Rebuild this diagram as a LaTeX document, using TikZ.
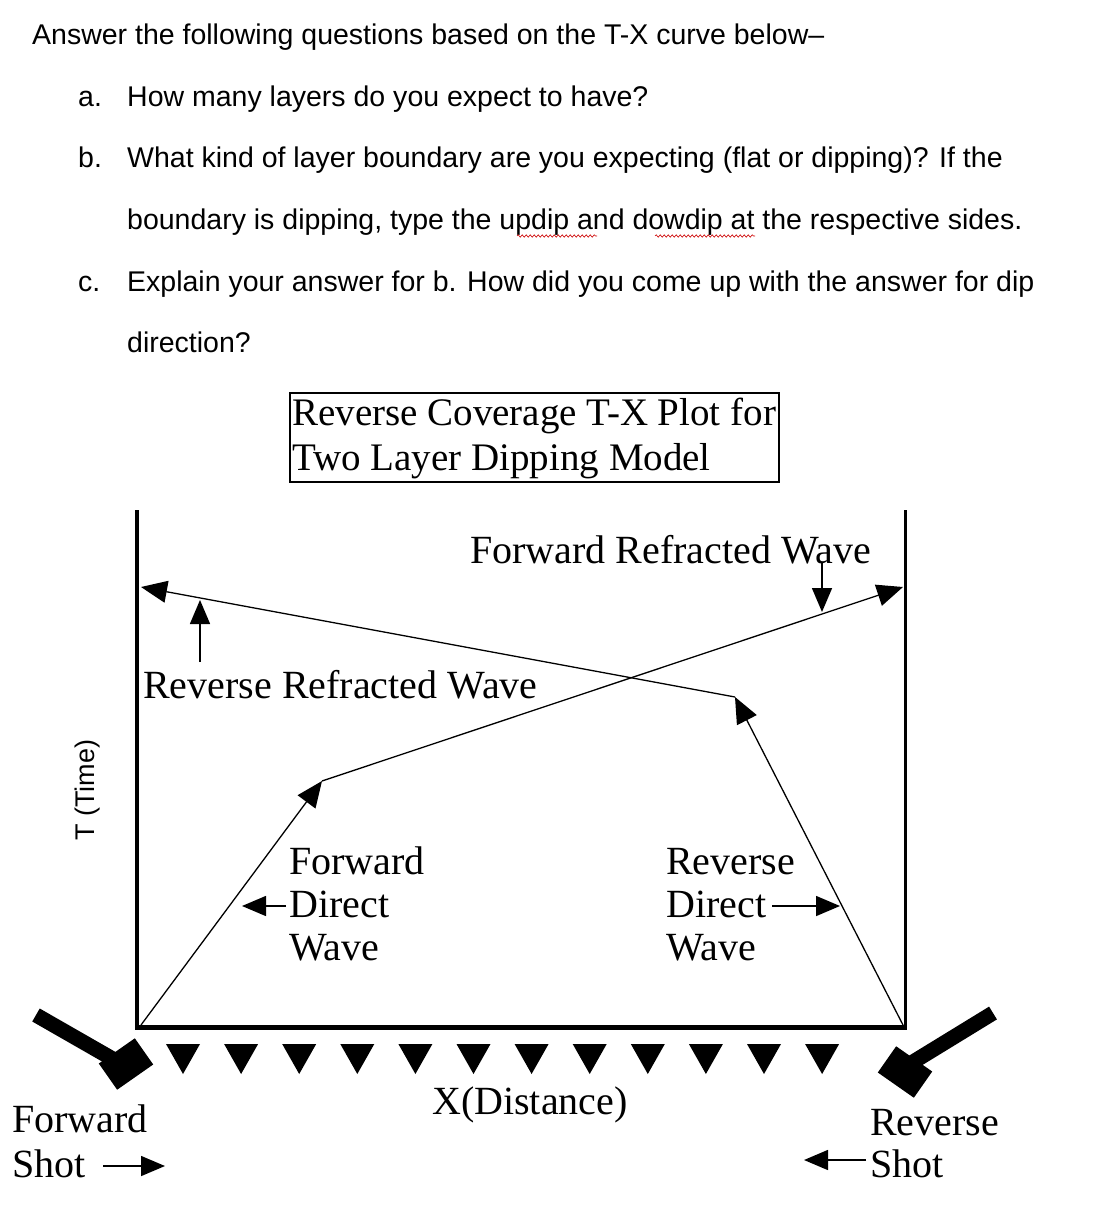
\documentclass[tikz,border=0pt]{standalone}
\usepackage{fontspec}
\setmainfont{Liberation Serif}
\newfontfamily\qfont{Liberation Sans}
\usetikzlibrary{arrows.meta,decorations.pathmorphing}
\begin{document}
\begin{tikzpicture}[x=1pt,y=-1pt,
  q/.style={anchor=base west,font=\qfont\fontsize{28.5}{30}\selectfont,inner sep=0},
  lab/.style={anchor=base west,font=\fontsize{40}{43}\selectfont,inner sep=0,align=left},
  wave/.style={line width=1.3pt},
  tipd/.style={-{Triangle[length=26,width=22]}},
  small/.style={line width=1.5pt,-{Triangle[length=24,width=20]}},
  geo/.style={fill=black,draw=none}]
\useasboundingbox (0,0) rectangle (1110,1214);
\node[q] (t0) at (32,45) {Answer the following questions based on the T-X curve below–};
\node[q] (t1) at (78,107) {a.};
\node[q] (t1b) at (127,107) {How many layers do you expect to have?};
\node[q] (t2) at (78,168) {b.};
\node[q] (t2b) at (127,168) {What kind of layer boundary are you expecting (flat or dipping)? If the};
\node[q] (t3) at (127,230) {boundary is dipping, type the updip and dowdip at the respective sides.};
\node[q] (t4) at (78,291) {c.};
\node[q] (t4b) at (127,291) {Explain your answer for b. How did you come up with the answer for dip};
\node[q] (t5) at (127,352) {direction?};
\draw[red!80!black,line width=0.6pt,decorate,decoration={snake,amplitude=1.2,segment length=4}] (517,236) -- (597,236);
\draw[red!80!black,line width=0.6pt,decorate,decoration={snake,amplitude=1.2,segment length=4}] (655,236) -- (755,236);
% title
\draw[line width=1.3pt] (290,393) rectangle (779,482);
\node[lab,font=\fontsize{39}{45}\selectfont] (title) at (292,470) {Reverse Coverage T-X Plot for\\Two Layer Dipping Model};
% frame
\coordinate (tl) at (137,510); \coordinate (bl) at (137,1027);
\coordinate (tr) at (905,510); \coordinate (br) at (905,1027);
\draw[line width=4pt] (tl) -- (bl);
\draw[line width=3pt] (tr) -- (br);
\draw[line width=5pt] (135,1027) -- (907,1027);
% forward
\coordinate (f0) at (141,1025); \coordinate (f1) at (322,781); \coordinate (f2) at (903,587);
\draw[wave,tipd] (f0) -- (f1);
\draw[wave,tipd] (f1) -- (f2);
% reverse
\coordinate (r0) at (903,1025); \coordinate (r1) at (735,697); \coordinate (r2) at (141,587);
\draw[wave,tipd] (r0) -- (r1);
\draw[wave,tipd] (r1) -- (r2);
% labels
\node[lab] (frw) at (470,563) {Forward Refracted Wave};
\coordinate (fra) at (822,563); \coordinate (frb) at (822,612);
\draw[small] (fra) -- (frb);
\node[lab] (rrw) at (143,698) {Reverse Refracted Wave};
\coordinate (rra) at (200,662); \coordinate (rrb) at (200,600);
\draw[small] (rra) -- (rrb);
\node[lab] (fdw) at (289,960) {Forward\\Direct\\Wave};
\coordinate (fda) at (286,906); \coordinate (fdb) at (242,906);
\draw[small] (fda) -- (fdb);
\node[lab] (rdw) at (666,960) {Reverse\\Direct\\Wave};
\coordinate (rda) at (772,906); \coordinate (rdb) at (840,906);
\draw[small] (rda) -- (rdb);
\node[font=\qfont\fontsize{27}{30}\selectfont,rotate=90] (T) at (88,790) {T (Time)};
\node[lab] (X) at (432,1114) {X(Distance)};
\node[lab,font=\fontsize{40}{45}\selectfont] (fs) at (12,1177) {Forward\\Shot};
\coordinate (fsa) at (103,1166); \coordinate (fsb) at (165,1166);
\draw[small] (fsa) -- (fsb);
\node[lab,font=\fontsize{40}{42}\selectfont] (rs) at (870,1177) {Reverse\\Shot};
\coordinate (rsa) at (866,1160); \coordinate (rsb) at (804,1160);
\draw[small] (rsa) -- (rsb);
% geophones
\foreach \i in {0,...,11}{
  \fill[geo] ({183+58.1*\i-17},1044) -- ({183+58.1*\i+17},1044) -- ({183+58.1*\i},1074) -- cycle;}
% hammers
\draw[line width=15pt] (36,1015) -- (118,1062);
\fill[rotate around={-55:(126,1064)}] (110,1042) rectangle (142,1086);
\draw[line width=15pt] (993,1013) -- (913,1062);
\fill[rotate around={55:(905,1072)}] (889,1050) rectangle (921,1094);
\end{tikzpicture}
\end{document}
